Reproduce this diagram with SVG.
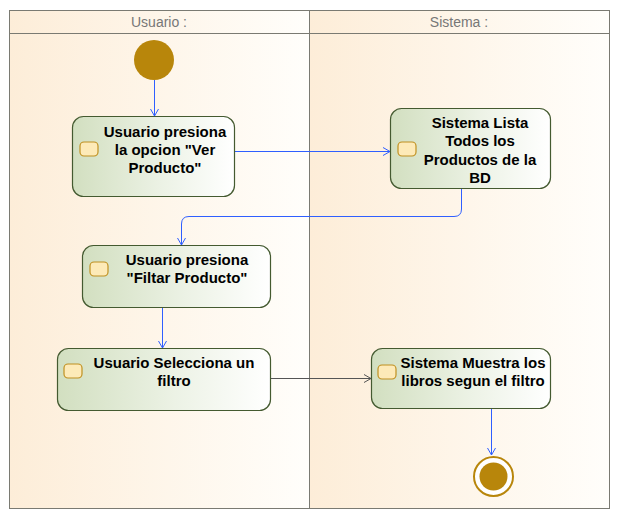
<svg xmlns="http://www.w3.org/2000/svg" width="620" height="519" viewBox="0 0 620 519">
<defs>
<linearGradient id="lane" x1="0" y1="0" x2="1" y2="0">
<stop offset="0" stop-color="#fdedd8"/>
<stop offset="1" stop-color="#fffefb"/>
</linearGradient>
<linearGradient id="act" x1="0" y1="0" x2="1" y2="0">
<stop offset="0" stop-color="#d2dfc0"/>
<stop offset="0.55" stop-color="#ecf2e5"/>
<stop offset="1" stop-color="#ffffff"/>
</linearGradient>
<marker id="arr" markerWidth="10" markerHeight="10" refX="8" refY="5" orient="auto" markerUnits="userSpaceOnUse">
<path d="M1,1 L8,5 L1,9" fill="none" stroke="#2f5fff" stroke-width="1"/>
</marker>
<marker id="arrg" markerWidth="10" markerHeight="10" refX="8" refY="5" orient="auto" markerUnits="userSpaceOnUse">
<path d="M1,1 L8,5 L1,9" fill="none" stroke="#555" stroke-width="1"/>
</marker>
</defs>
<style>
.lanebox{fill:url(#lane);stroke:#7a7a72;stroke-width:1}
.hdr{font-family:"Liberation Sans",Arial,sans-serif;font-size:14px;fill:#777;text-anchor:middle}
.node{fill:url(#act);stroke:#445a30;stroke-width:1.2}
.icon{fill:#fdeab8;stroke:#c09020;stroke-width:1.2}
.lbl{font-family:"Liberation Sans",Arial,sans-serif;font-size:15px;font-weight:bold;fill:#000;text-anchor:middle}
.edge{fill:none;stroke:#2f5fff;stroke-width:1;marker-end:url(#arr)}
.edgeg{fill:none;stroke:#555;stroke-width:1;marker-end:url(#arrg)}
</style>
<rect width="620" height="519" fill="#ffffff"/>
<g id="lanes">
<rect class="lanebox" x="9.5" y="10.5" width="300" height="498"/>
<rect class="lanebox" x="309.5" y="10.5" width="300" height="498"/>
<line x1="9.5" y1="33.5" x2="609.5" y2="33.5" stroke="#7a7a72"/>
<text class="hdr" x="159" y="27">Usuario :</text>
<text class="hdr" x="459" y="27">Sistema :</text>
</g>
<g id="edges">
<path class="edge" d="M154.5,80 L154.5,116"/>
<path class="edge" d="M234,151.5 L390,151.5"/>
<path class="edge" d="M461.5,188 L461.5,209 Q461.5,216.5 454,216.5 L189,216.5 Q181.5,216.5 181.5,224 L181.5,245"/>
<path class="edge" d="M162.5,307 L162.5,348"/>
<path class="edgeg" d="M270,378.5 L371,378.5"/>
<path class="edge" d="M491.5,408 L491.5,455"/>
</g>
<g id="start"><circle cx="154" cy="60" r="20" fill="#b8860b"/></g>
<g id="n1">
<rect class="node" x="72.5" y="116.5" width="162" height="80" rx="11"/>
<rect class="icon" x="80" y="142" width="18" height="14" rx="4"/>
<text class="lbl"><tspan x="165" y="137">Usuario presiona</tspan><tspan x="165" y="155">la opcion "Ver</tspan><tspan x="165" y="173">Producto"</tspan></text>
</g>
<g id="n2">
<rect class="node" x="390.5" y="108.5" width="160" height="80" rx="11"/>
<rect class="icon" x="398" y="142" width="18" height="14" rx="4"/>
<text class="lbl"><tspan x="480" y="128">Sistema Lista</tspan><tspan x="480" y="146">Todos los</tspan><tspan x="480" y="165">Productos de la</tspan><tspan x="480" y="183">BD</tspan></text>
</g>
<g id="n3">
<rect class="node" x="82.5" y="245.5" width="188" height="62" rx="11"/>
<rect class="icon" x="90" y="262" width="18" height="14" rx="4"/>
<text class="lbl"><tspan x="187" y="265">Usuario presiona</tspan><tspan x="187" y="283">"Filtar Producto"</tspan></text>
</g>
<g id="n4">
<rect class="node" x="57.5" y="348.5" width="213" height="62" rx="11"/>
<rect class="icon" x="64" y="364" width="18" height="14" rx="4"/>
<text class="lbl"><tspan x="174" y="368">Usuario Selecciona un</tspan><tspan x="174" y="386">filtro</tspan></text>
</g>
<g id="n5">
<rect class="node" x="371.5" y="348.5" width="179" height="60" rx="11"/>
<rect class="icon" x="378" y="365" width="18" height="14" rx="4"/>
<text class="lbl"><tspan x="473" y="368">Sistema Muestra los</tspan><tspan x="473" y="386">libros segun el filtro</tspan></text>
</g>
<g id="end">
<circle cx="493.5" cy="476.5" r="19.5" fill="#ffffff" stroke="#b8860b" stroke-width="2"/>
<circle cx="493.5" cy="476.5" r="14" fill="#b8860b"/>
</g>
</svg>
